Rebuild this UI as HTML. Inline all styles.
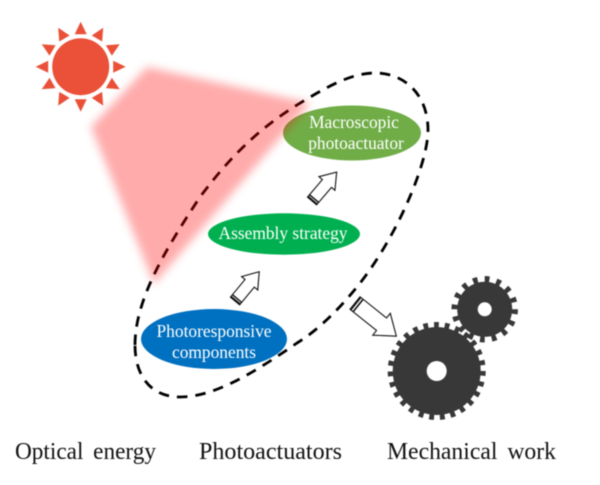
<!DOCTYPE html>
<html><head><meta charset="utf-8">
<style>
html,body{margin:0;padding:0;background:#fff}
svg{display:block;filter:blur(0.4px)}
text{font-family:"Liberation Serif",serif}
.w{fill:#fff;font-size:17.4px;text-anchor:middle}
.b{fill:#111;font-size:24px;word-spacing:4px}
</style></head>
<body>
<svg width="600" height="485" viewBox="0 0 600 485" xmlns="http://www.w3.org/2000/svg">
<defs>
<filter id="bl" x="-20%" y="-20%" width="140%" height="140%"><feGaussianBlur stdDeviation="4.5"/></filter>
<polygon id="ray" points="-6,-32.5 6,-32.5 0,-45" fill="#ea5138"/>
</defs>
<rect width="600" height="485" fill="#fff"/>
<!-- sun -->
<g transform="translate(80.7,66.7)">
<circle r="28.5" fill="#ea5138"/>
<use href="#ray"/><use href="#ray" transform="rotate(30)"/><use href="#ray" transform="rotate(60)"/>
<use href="#ray" transform="rotate(90)"/><use href="#ray" transform="rotate(120)"/><use href="#ray" transform="rotate(150)"/>
<use href="#ray" transform="rotate(180)"/><use href="#ray" transform="rotate(210)"/><use href="#ray" transform="rotate(240)"/>
<use href="#ray" transform="rotate(270)"/><use href="#ray" transform="rotate(300)"/><use href="#ray" transform="rotate(330)"/>
</g>
<!-- nodes -->
<ellipse cx="352" cy="133" rx="69" ry="27.5" fill="#70ad47"/>
<ellipse cx="284" cy="234" rx="76" ry="20.7" fill="#00b050"/>
<ellipse cx="214" cy="339" rx="73" ry="30" fill="#0070c0"/>
<!-- dashed outline -->
<path d="M135 345 C135 300 165 250 200 197 C235 150 265 125 297 105 C325 88 350 73 375 73 C405 73 428 95 428 130 C428 165 395 240 357 287 C330 320 310 335 297 343 C255 372 215 397 180 397 C150 397 135 375 135 345 Z" fill="none" stroke="#000" stroke-width="2.8" stroke-dasharray="10.5 8"/>
<!-- light beam -->
<polygon points="147,67 91,127 154,284 310,103" fill="#f00" fill-opacity=".33" filter="url(#bl)"/>
<!-- labels in nodes -->
<text class="w" x="354" y="128">Macroscopic</text>
<text class="w" x="356" y="149">photoactuator</text>
<text class="w" x="283" y="239">Assembly strategy</text>
<text class="w" x="214" y="337">Photoresponsive</text>
<text class="w" x="214" y="358">components</text>
<!-- arrows -->
<g fill="#fff" stroke="#111" stroke-width="1.1">
<g transform="translate(235,301) rotate(-50.4)">
<polygon points="0,-6 23,-6 23,-10.5 38,0 23,10.5 23,6 0,6"/>
<path d="M1 -6V6M3.2 -6V6" stroke-width="1.4"/>
</g>
<g transform="translate(312,201) rotate(-49.5)">
<polygon points="0,-6 23,-6 23,-10.5 38,0 23,10.5 23,6 0,6"/>
<path d="M1 -6V6M3.2 -6V6" stroke-width="1.4"/>
</g>
<g transform="translate(355,303) rotate(38.7)">
<polygon points="0,-8 34,-8 34,-14 53,0 34,14 34,8 0,8"/>
<path d="M1 -8V8M4 -8V8" stroke-width="1.6"/>
</g>
</g>
<!-- gears -->
<g fill="#383838">
<circle cx="484.7" cy="309.3" r="27.5"/>
<circle cx="484.7" cy="309.3" r="30" fill="none" stroke="#383838" stroke-width="6.5" pathLength="320" stroke-dasharray="8 12"/>
<circle cx="436.7" cy="371" r="44"/>
<circle cx="436.7" cy="371" r="46" fill="none" stroke="#383838" stroke-width="6" pathLength="540" stroke-dasharray="9 11"/>
</g>
<circle cx="484.7" cy="309.3" r="7" fill="#fff"/>
<circle cx="436.7" cy="371" r="10" fill="#fff"/>
<!-- captions -->
<text class="b" x="15" y="459" textLength="141" lengthAdjust="spacingAndGlyphs">Optical energy</text>
<text class="b" x="199" y="459" textLength="143" lengthAdjust="spacingAndGlyphs">Photoactuators</text>
<text class="b" x="387" y="459" textLength="169" lengthAdjust="spacingAndGlyphs">Mechanical work</text>
</svg>
</body></html>
